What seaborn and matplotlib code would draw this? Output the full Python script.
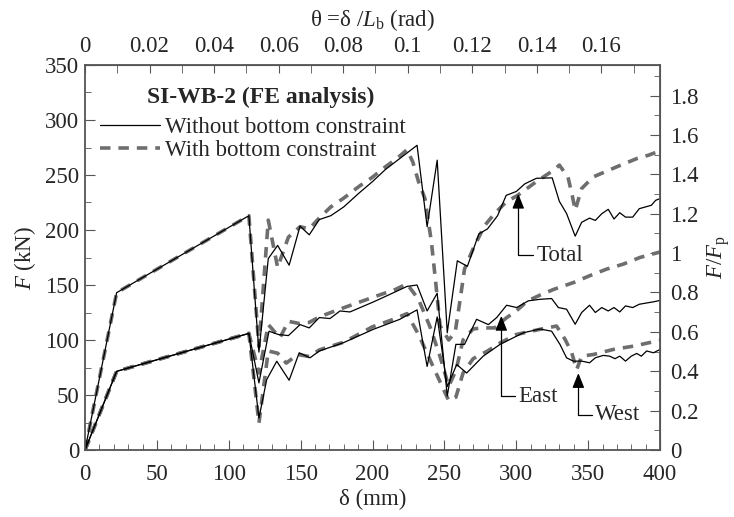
import numpy as np
import pandas as pd
import seaborn as sns
import matplotlib.pyplot as plt
from matplotlib.lines import Line2D
from matplotlib.ticker import MultipleLocator, FixedLocator, FuncFormatter

# SI-WB-2 FE analysis: load vs. displacement
LB = 2245.0   # mm, beam length used for the rotation axis
FP = 179.0    # kN, plastic load used for the normalised axis

tot_wo_x = [0, 22, 114, 121, 127.5, 134, 142, 149.6, 156, 163, 171, 180, 191, 200, 209, 216, 224, 231,
            238, 245, 252, 259, 266, 274, 280, 287, 293, 300, 306, 314, 325, 330, 335, 341, 345.5, 351,
            355, 359.5, 364, 368, 372, 376, 381, 385.6, 390, 394, 397, 400]
tot_wo_y = [0, 143, 213, 89, 174, 186, 168, 203.5, 195.6, 209.5, 213, 221, 234, 244, 255, 262, 270, 277,
            203, 263.5, 106.6, 172, 167, 196.5, 201, 213, 231.5, 235, 242, 247, 247.4, 226, 215, 194.4, 207, 210.8,
            208.7, 214.8, 218.8, 210, 215.7, 211.7, 211.7, 219.4, 221, 222.5, 227, 228.5]

tot_w_x = [0, 22, 114, 121, 127.5, 134, 141.5, 149.6, 156, 163, 171, 180, 191, 200, 209, 217, 224, 228,
           232, 236.5, 241, 244, 247, 253, 257.5, 261, 264, 270, 278, 285, 293, 301, 314, 326, 330,
           336, 339, 341, 345.5, 353.6, 362, 370, 384, 392, 400]
tot_w_y = [0, 143, 213, 94, 209, 166, 193.5, 203, 201, 211, 221, 229, 240, 248, 257.5, 265, 273, 262,
           244, 228.5, 189, 152, 113, 100, 107, 137, 164.5, 183, 204, 215, 225.5, 231.5, 244, 254.4, 259,
           248, 231, 218, 237.7, 248.3, 253, 257.5, 265, 268, 272]

east_wo_x = [0, 22, 114, 121, 128, 134.5, 141.5, 149.6, 156, 163, 170.4, 177.4, 184.3, 200.6, 209, 224, 231,
             238, 245, 252, 258, 264, 272.4, 280.6, 286.4, 293.3, 300.3, 308.4, 316.5, 324.6, 329.3, 335, 341,
             345.5, 351, 355, 359.5, 364, 368, 372, 376, 381, 385.6, 390, 395.5, 400]
east_wo_y = [0, 71.5, 106, 61, 108, 105, 104, 114, 111, 120.4, 119.5, 126.4, 125.5, 134.6, 139.6, 148.7, 150,
             126.4, 142.5, 49, 96, 96, 118.8, 114, 120.4, 131.6, 129.5, 135.6, 137, 137.7, 129.5, 128, 114.3,
             125, 131.6, 125, 129.5, 126.4, 129.5, 125.5, 131, 129.5, 132.5, 133.5, 134.7, 136]

west_wo_x = [0, 22, 114, 121, 126.4, 133.4, 142, 149, 156.5, 163, 179.7, 200.6, 219, 231, 238, 245, 252,
             258.6, 265.5, 277, 288.7, 305, 316.5, 324.6, 330.4, 335, 339.7, 345.5, 351, 355, 360.5, 365,
             368.7, 372, 376, 380, 383.8, 387, 390.7, 395.5, 400]
west_wo_y = [0, 71.5, 106, 29, 64, 80.7, 63.4, 88.4, 83.8, 90, 97.5, 109.7, 118.8, 127.4, 76, 121, 57.6,
             77.7, 70, 85.3, 96, 106.6, 110, 108, 96, 83.8, 80.8, 80.8, 79.3, 83.8, 86, 85.3,
             83, 85.3, 80.8, 85.3, 87.8, 85.3, 90, 88.4, 91.4]

east_w_x = [0, 22, 114, 121, 127.5, 135.6, 141.5, 149, 156, 163, 175, 190, 205, 216, 224, 232, 240, 247,
            253, 258, 263, 270, 276, 285, 293, 300, 308, 316.5, 326, 340, 351, 363, 374.5, 386, 400]
east_w_y = [0, 71.5, 106, 70, 114, 102, 117, 115, 116, 121, 127, 134, 141, 146, 151, 137, 112, 85,
            58, 72, 100, 110, 111, 111, 120, 126.4, 135.6, 140.8, 146, 152.3, 158.4, 164.5, 169, 175, 180]

west_w_x = [0, 22, 114, 121, 127.5, 134, 140, 148, 156, 163, 180, 200, 215, 224, 232, 240, 247, 253,
            258, 263, 270, 280, 289, 300, 316.5, 328, 334, 338.6, 342, 345.5, 353.6, 367.5, 381.4, 397.6, 400]
west_w_y = [0, 71.5, 106, 24.4, 90, 88, 79, 86.8, 85, 91, 98, 112, 119, 124, 105, 82, 62, 45,
            48, 70, 83, 90, 97.5, 105, 109.7, 112.7, 100.5, 88.4, 73, 85.3, 86.8, 91.4, 94.4, 99, 99.5]

theta_ticks = [0, 0.02, 0.04, 0.06, 0.08, 0.1, 0.12, 0.14, 0.16]
ratio_ticks = [0, 0.2, 0.4, 0.6, 0.8, 1, 1.2, 1.4, 1.6, 1.8]

series = [
    ("with", "total", tot_w_x, tot_w_y),
    ("with", "east", east_w_x, east_w_y),
    ("with", "west", west_w_x, west_w_y),
    ("without", "total", tot_wo_x, tot_wo_y),
    ("without", "east", east_wo_x, east_wo_y),
    ("without", "west", west_wo_x, west_wo_y),
]
frames = []
for case, part, xs, ys in series:
    frames.append(pd.DataFrame({"delta": xs, "F": ys, "case": case, "series": case + "-" + part}))
df = pd.concat(frames, ignore_index=True)

sns.set_style("ticks")
plt.rcParams["font.family"] = ["Liberation Serif", "DejaVu Serif"]
plt.rcParams["mathtext.fontset"] = "custom"
plt.rcParams["mathtext.rm"] = "Liberation Serif"
plt.rcParams["mathtext.it"] = "Liberation Serif:italic"
FS = 16.5
plt.rcParams["font.size"] = FS

fig = plt.figure(figsize=(7.34, 5.17), dpi=100)
ax = fig.add_axes([85/734, 1-450/517, 575/734, 385/517])

GRAY = "#6e6e6e"
EDGE = "#555555"
# dashed (with constraint) drawn first so the thin solid lines sit on top
sns.lineplot(data=df, x="delta", y="F", hue="case", style="case", size="case", units="series",
             estimator=None, sort=False, hue_order=["with", "without"],
             palette={"with": GRAY, "without": "black"},
             dashes={"with": (2.9, 2.2), "without": ""},
             sizes={"with": 2.6, "without": 0.9}, legend=False, ax=ax)

ax.set_xlim(0, 400)
ax.set_ylim(0, 350)
ax.xaxis.set_major_locator(MultipleLocator(50))
ax.xaxis.set_minor_locator(MultipleLocator(10))
ax.yaxis.set_major_locator(MultipleLocator(50))
ax.yaxis.set_minor_locator(MultipleLocator(25))
ax.tick_params(which="both", direction="in", color=EDGE, labelsize=FS)
ax.tick_params(which="major", length=7)
ax.tick_params(which="minor", length=4)
ax.tick_params(axis="x", pad=10)
ax.tick_params(axis="y", pad=4)
for s in ax.spines.values():
    s.set_color(EDGE)
    s.set_linewidth(1.3)
ax.set_xlabel("δ (mm)", labelpad=3)
ax.set_ylabel("$F$ (kN)", labelpad=5)

# rotation axis on top, normalised load on the right
top = ax.secondary_xaxis("top", functions=(lambda d: d / LB, lambda t: t * LB))
top.xaxis.set_major_locator(FixedLocator(theta_ticks))
top.xaxis.set_minor_locator(FixedLocator(np.arange(0.01, 0.18, 0.02)))
top.xaxis.set_major_formatter(FuncFormatter(lambda v, p: "%g" % round(v, 3)))
top.tick_params(which="both", direction="in", length=6, color=EDGE, pad=6, labelsize=FS)
top.set_xlabel(r"θ =δ /$L_\mathrm{b}$ (rad)", labelpad=7)
top.spines["top"].set_color(EDGE)

right = ax.secondary_yaxis("right", functions=(lambda f: f / FP, lambda r: r * FP))
right.yaxis.set_major_locator(FixedLocator(ratio_ticks))
right.yaxis.set_minor_locator(FixedLocator(np.arange(0.1, 1.96, 0.2)))
right.yaxis.set_major_formatter(FuncFormatter(lambda v, p: "%g" % round(v, 2)))
right.tick_params(which="major", direction="in", length=7, color=EDGE, pad=7, labelsize=FS)
right.tick_params(which="minor", direction="in", length=4, color=EDGE)
right.set_ylabel(r"$F/F_\mathrm{p}$", labelpad=5)
right.spines["right"].set_color(EDGE)

ax.text(0.305, 0.917, "SI-WB-2 (FE analysis)", transform=ax.transAxes, ha="center", va="center",
        fontsize=17, fontweight="bold")
handles = [Line2D([], [], color="black", lw=0.9),
           Line2D([], [], color=GRAY, lw=2.6, dashes=(2.9, 2.2))]
ax.legend(handles, ["Without bottom constraint", "With bottom constraint"],
          loc="upper left", bbox_to_anchor=(0.026, 0.866),
          frameon=False, handlelength=2.6, handletextpad=0.25, labelspacing=0.1,
          borderpad=0, borderaxespad=0, fontsize=FS)

arrow = dict(arrowstyle="-|>,head_length=0.55,head_width=0.22", connectionstyle="angle,angleA=180,angleB=90,rad=0",
             color="black", lw=0.9, shrinkA=0, shrinkB=0, relpos=(0, 0.5))
ax.annotate("Total", xy=(301.4, 233), xytext=(314, 177), va="center", ha="left", arrowprops=arrow)
ax.annotate("East", xy=(289.6, 122), xytext=(301.5, 49), va="center", ha="left", arrowprops=arrow)
ax.annotate("West", xy=(343.2, 70), xytext=(354.8, 32), va="center", ha="left", arrowprops=arrow)

fig.savefig("out.png", dpi=100)
